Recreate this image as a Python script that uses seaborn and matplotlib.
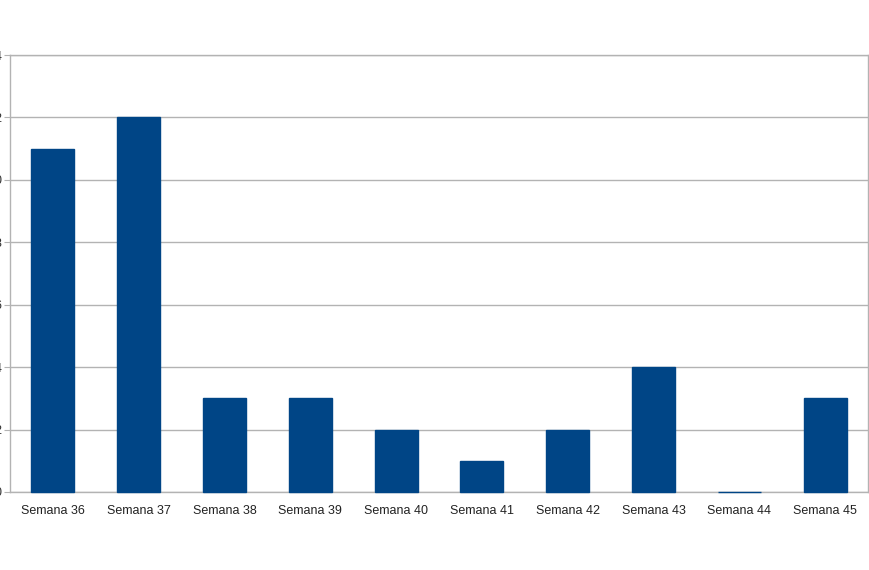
import numpy as np
import pandas as pd
import matplotlib
matplotlib.use("Agg")
import matplotlib.pyplot as plt
import seaborn as sns

# data
weeks = ["Semana 36", "Semana 37", "Semana 38", "Semana 39", "Semana 40",
         "Semana 41", "Semana 42", "Semana 43", "Semana 44", "Semana 45"]
counts = [11, 12, 3, 3, 2, 1, 2, 4, 0, 3]
y_ticks = [0, 2, 4, 6, 8, 10, 12, 14]

df = pd.DataFrame({"week": weeks, "count": counts})

sns.set_style("white")
plt.rcParams["font.family"] = ["Liberation Sans", "DejaVu Sans"]

fig = plt.figure(figsize=(8.7, 5.7), dpi=100)
ax = fig.add_axes([10 / 870, 78 / 570, 858 / 870, 437 / 570])

bar_color = "#004586"
grid_color = "#b3b3b3"

sns.barplot(data=df, x="week", y="count", color=bar_color, width=0.5,
            saturation=1, edgecolor=bar_color, linewidth=1, ax=ax, zorder=3)
# let the zero-height bar show as a thin line on the baseline
for p in ax.patches:
    p.set_clip_on(False)

ax.set_ylim(0, 14)
ax.set_xlim(-0.5, len(weeks) - 0.5)
ax.set_yticks(y_ticks)
ax.set_yticklabels([str(v) for v in y_ticks], fontsize=9, color="#333333")
ax.yaxis.grid(True, color=grid_color, linewidth=1, zorder=0)
ax.set_axisbelow(True)

# LibreOffice style: tick marks between categories
ax.set_xticks(np.arange(-0.5, len(weeks), 1), minor=True)
ax.tick_params(axis="x", which="major", length=0, pad=9, labelsize=9, labelcolor="#222222")
ax.tick_params(axis="x", which="minor", length=4, color=grid_color, direction="out")
ax.tick_params(axis="y", which="major", length=4, color=grid_color, pad=2, left=True)

for side in ["left", "right", "top", "bottom"]:
    ax.spines[side].set_color(grid_color)
    ax.spines[side].set_linewidth(1)

ax.set_xlabel("")
ax.set_ylabel("")

fig.savefig("out.png", dpi=100)
